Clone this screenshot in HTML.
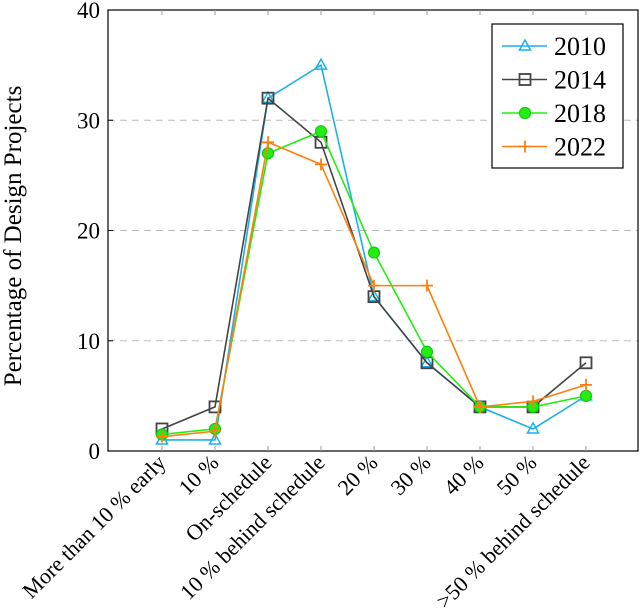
<!DOCTYPE html>
<html><head><meta charset="utf-8"><style>
body{margin:0;background:#fff;}
svg{display:block;font-family:"Liberation Serif",serif;}
text{font-family:"Liberation Serif",serif;}
</style></head><body>
<svg id="chart" width="640" height="614" viewBox="0 0 640 614">
<g id="grid"></g>
<g id="series"></g>
<rect x="108" y="10" width="530" height="441" fill="none" stroke="#000" stroke-width="1.2"/>
<g id="axes"></g>
<text transform="translate(21,236) rotate(-90)" text-anchor="middle" font-size="25">Percentage of Design Projects</text>
<g>
<rect x="492" y="24" width="131" height="144" fill="#fff" stroke="#000" stroke-width="1.2"/>
<g id="legend"></g>
</g>
</svg>
<script>
const categories=["More than 10 % early","10 %","On-schedule","10 % behind schedule","20 %","30 %","40 %","50 %",">50 % behind schedule"];
const seriesNames=["2010","2014","2018","2022"];
const s2010=[1,1,32,35,14,8,4,2,5];
const s2014=[2,4,32,28,14,8,4,4,8];
const s2018=[1.5,2,27,29,18,9,4,4,5];
const s2022=[1.3,1.8,28,26,15,15,4,4.5,6];
const yTicks=[0,10,20,30,40];
const colors=["#1ab0e8","#444444","#22ee11","#ff7f0e"];
const markers=["tri","sq","circ","plus"];
const allSeries=[s2010,s2014,s2018,s2022];
const NS="http://www.w3.org/2000/svg";
function xs(i){return 162+53*i;}
function ys(v){return 451-v*(441/40);}
function mk(tag,attrs,parent){const e=document.createElementNS(NS,tag);for(const k in attrs)e.setAttribute(k,attrs[k]);parent.appendChild(e);return e;}
const grid=document.getElementById('grid'),axes=document.getElementById('axes'),ser=document.getElementById('series'),leg=document.getElementById('legend');
yTicks.forEach(t=>{
 if(t>0&&t<40){const l=mk('line',{x1:108,x2:638,y1:ys(t),y2:ys(t),stroke:'#bbb','stroke-dasharray':'7,5'},grid);
 
 }
 const tk=mk('line',{x1:108,x2:113,y1:ys(t),y2:ys(t),stroke:'#000'},axes);
 
 
 const tx=mk('text',{x:100,y:ys(t)+8,'text-anchor':'end','font-size':23},axes);tx.textContent=t;
 
 
});
categories.forEach((c,i)=>{
 const x=xs(i);
 mk('line',{x1:x,x2:x,y1:451,y2:446,stroke:'#999'},axes);
 mk('line',{x1:x,x2:x,y1:10,y2:15,stroke:'#999'},axes);
 const tx=mk('text',{transform:`translate(${x+5},${464}) rotate(-45)`,'text-anchor':'end','font-size':22},axes);tx.textContent=c;
 
 
});
function marker(type,x,y,col,parent){
 let e;
 if(type==='tri')e=mk('polygon',{points:`${x},${y-6} ${x-5.5},${y+4} ${x+5.5},${y+4}`,fill:'none',stroke:col,'stroke-width':1.5},parent);
 else if(type==='sq')e=mk('rect',{x:x-5.5,y:y-5.5,width:11,height:11,fill:'none',stroke:col,'stroke-width':1.8},parent);
 else if(type==='circ'){e=mk('circle',{cx:x,cy:y,r:5.5,fill:col,stroke:'#1c1',"stroke-width":1.2},parent);}
 else {e=mk('path',{d:`M${x-6},${y}H${x+6}M${x},${y-6}V${y+6}`,stroke:col,'stroke-width':1.8},parent);}
 return e;
}
allSeries.forEach((d,si)=>{
 const g=mk('g',{},ser);
 
 
 const pts=d.map((v,i)=>xs(i)+','+ys(v)).join(' ');
 const pl=mk('polyline',{points:pts,fill:'none',stroke:colors[si],'stroke-width':1.6},g);
 
 
 d.forEach((v,i)=>{const m=marker(markers[si],xs(i),ys(v),colors[si],g);
  
  });
 const ly=46+33.5*si;
 const lg=mk('g',{},leg);
 
 
 mk('line',{x1:502,x2:547,y1:ly,y2:ly,stroke:colors[si],'stroke-width':1.6},lg);
 marker(markers[si],525,ly,colors[si],lg);
 const t=mk('text',{x:554,y:ly+9,'font-size':26},lg);t.textContent=seriesNames[si];
});
</script>
</body></html>
